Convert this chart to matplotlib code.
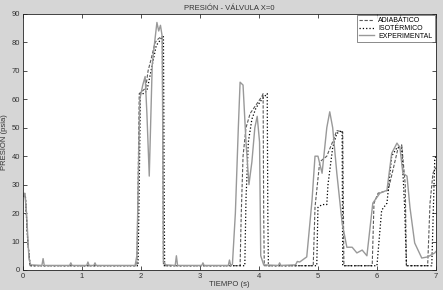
import matplotlib
matplotlib.use("Agg")
import matplotlib.pyplot as plt

plt.rcParams['font.family'] = ['Liberation Sans', 'DejaVu Sans']

# ADIABATICO (dashed)
t_adi = [0.0, 0.04, 0.08, 0.12, 1.93, 1.95, 1.97, 2.03, 2.08, 2.12, 2.17, 2.24, 2.28, 2.34, 2.36, 2.38,
         3.68, 3.70, 3.73, 3.78, 3.85, 3.95, 4.05, 4.07, 4.08, 4.09,
         4.92, 4.95, 5.03, 5.15, 5.24, 5.32, 5.42, 5.44,
         5.92, 5.95, 6.02, 6.19, 6.27, 6.36, 6.42, 6.48, 6.50,
         6.86, 6.90, 6.95, 7.0]
p_adi = [26.0, 26.0, 10.0, 1.5, 1.5, 30.0, 62.0, 63.0, 64.0, 70.0, 74.0, 80.0, 81.0, 82.0, 82.0, 1.5,
         1.5, 20.0, 40.0, 50.0, 55.0, 58.0, 61.0, 62.0, 20.0, 1.5,
         1.5, 22.0, 38.0, 40.0, 44.6, 49.0, 48.5, 1.5,
         1.5, 23.5, 27.0, 28.0, 35.0, 43.0, 44.0, 30.0, 1.5,
         1.5, 23.5, 34.0, 36.0]

# ISOTERMICO (dotted)
t_iso = [0.0, 0.04, 0.08, 0.12, 1.95, 1.97, 1.99, 2.05, 2.10, 2.15, 2.20, 2.26, 2.30, 2.36, 2.38, 2.40,
         3.76, 3.78, 3.82, 3.88, 3.95, 4.05, 4.14, 4.15, 4.16,
         4.98, 5.00, 5.07, 5.15, 5.17, 5.25, 5.32, 5.41, 5.42,
         6.00, 6.08, 6.17, 6.25, 6.34, 6.42, 6.47, 6.50,
         6.93, 6.98, 7.0]
p_iso = [26.0, 26.0, 10.0, 1.5, 1.5, 30.0, 62.0, 62.0, 63.0, 68.0, 73.0, 79.0, 80.0, 82.0, 82.0, 1.5,
         1.5, 25.0, 45.0, 53.0, 57.0, 60.0, 62.0, 20.0, 1.5,
         1.5, 22.0, 23.0, 23.0, 30.0, 43.0, 48.0, 49.0, 1.5,
         1.5, 21.0, 23.5, 40.0, 43.0, 43.0, 22.0, 1.5,
         1.5, 38.7, 40.0]

# EXPERIMENTAL (solid)
t_exp = [0.0, 0.02, 0.03, 0.06, 0.10, 0.13, 0.32, 0.34, 0.36, 0.79, 0.81, 0.83, 1.08, 1.10, 1.12,
         1.20, 1.22, 1.24, 1.90, 1.93, 1.98, 2.03, 2.07, 2.10, 2.14, 2.19, 2.22, 2.27, 2.30,
         2.33, 2.36, 2.38, 2.42, 2.58, 2.60, 2.62, 3.03, 3.05, 3.07, 3.48, 3.50, 3.52,
         3.55, 3.60, 3.65, 3.68, 3.73, 3.78, 3.83, 3.88, 3.93, 3.97, 4.01, 4.03, 4.08,
         4.33, 4.35, 4.37, 4.62, 4.65, 4.69, 4.81, 4.90, 4.95, 5.00, 5.07, 5.15, 5.20,
         5.25, 5.32, 5.41, 5.49, 5.58, 5.66, 5.75, 5.83, 5.93, 6.05, 6.17, 6.25, 6.34,
         6.39, 6.44, 6.51, 6.56, 6.64, 6.76, 6.86, 6.98, 7.0]
p_exp = [27.0, 26.0, 27.0, 20.0, 4.0, 1.8, 1.6, 4.0, 1.6, 1.6, 2.5, 1.6, 1.6, 2.8, 1.6,
         1.6, 2.5, 1.6, 1.6, 5.0, 60.0, 65.0, 68.0, 55.0, 33.0, 72.0, 78.0, 87.0, 84.0,
         86.0, 82.0, 3.0, 1.8, 1.6, 5.0, 1.6, 1.6, 2.5, 1.6, 1.6, 3.5, 1.6,
         2.0, 20.0, 50.0, 66.0, 65.0, 45.0, 30.0, 38.0, 50.0, 54.0, 45.0, 5.0, 1.8,
         1.6, 2.5, 1.6, 1.8, 3.0, 2.8, 4.6, 24.6, 40.0, 40.0, 34.0, 50.0, 55.6,
         50.0, 34.0, 16.5, 8.0, 8.0, 6.0, 7.0, 5.0, 23.5, 27.0, 28.0, 41.0, 44.6,
         43.0, 34.0, 33.0, 22.0, 9.5, 4.2, 4.6, 6.0, 6.5]

fig = plt.figure(figsize=(4.43, 2.90), dpi=100, facecolor='#d6d6d6')
ax = fig.add_axes([0.052, 0.069, 0.932, 0.883])
ax.set_facecolor('white')

ax.plot(t_adi, p_adi, '--', color='#5a5a5a', lw=0.8, dashes=(3, 1.5), label='ADIABÁTICO')
ax.plot(t_iso, p_iso, ':', color='black', lw=0.9, label='ISOTÉRMICO')
ax.plot(t_exp, p_exp, '-', color='#999999', lw=1.0, label='EXPERIMENTAL')

ax.set_xlim(0, 7)
ax.set_ylim(0, 90)
ax.set_xticks(range(8))
ax.set_yticks(range(0, 91, 10))
ax.tick_params(direction='in', length=3, width=0.6, labelsize=5.5, colors='#333333',
               top=True, right=True, pad=2)
for s in ax.spines.values():
    s.set_linewidth(0.6)
    s.set_color('#222222')

ax.set_title('PRESIÓN - VÁLVULA X=0', fontsize=5.5, color='#333333', pad=3)
ax.set_xlabel('TIEMPO (s)', fontsize=5.5, color='#333333', labelpad=1)
ax.set_ylabel('PRESION (psia)', fontsize=5.5, color='#333333', labelpad=3)

leg = ax.legend(loc='upper right', fontsize=5, frameon=True, fancybox=False,
                edgecolor='#333333', handlelength=2.2, borderpad=0.3, labelspacing=0.1,
                handletextpad=0.6, borderaxespad=0.2)
leg.get_frame().set_linewidth(0.5)

plt.savefig('out.png', dpi=100, facecolor=fig.get_facecolor())
